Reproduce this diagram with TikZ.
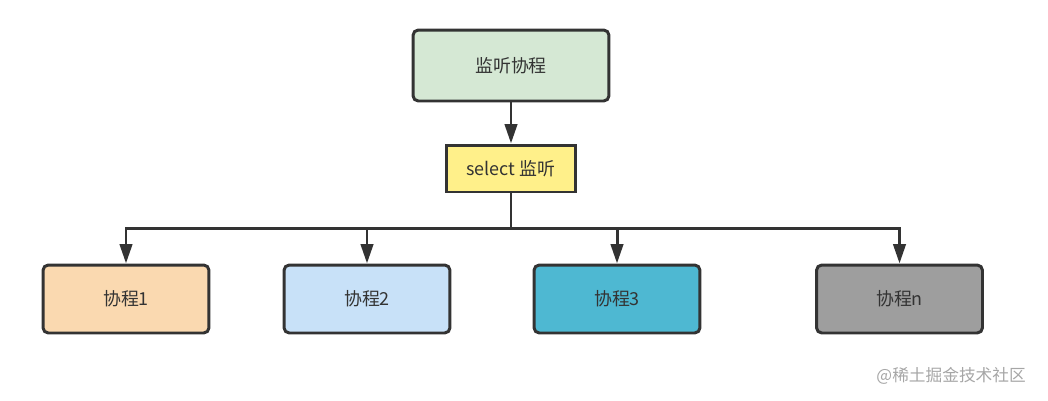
\documentclass[tikz,border=0pt]{standalone}
\usepackage{fontspec}
\setmainfont{Noto Sans CJK SC}
\usetikzlibrary{arrows.meta}
\definecolor{edgegray}{HTML}{333333}
\definecolor{listenfill}{HTML}{D5E8D4}
\definecolor{selfill}{HTML}{FFF08A}
\definecolor{coafill}{HTML}{FAD9B0}
\definecolor{cobfill}{HTML}{C8E1F8}
\definecolor{cocfill}{HTML}{4EB8D2}
\definecolor{condfill}{HTML}{9E9E9E}
\tikzset{
    box/.style={draw=edgegray, line width=1.7pt, rounded corners=3pt, font=\fontsize{10.2}{12}\selectfont, text=edgegray},
    cobox/.style={box, minimum width=3.32cm, minimum height=1.36cm},
    link/.style={draw=edgegray, line width=1.7pt},
    arr/.style={link, -{Triangle[length=11pt, width=7pt]}}
}
\begin{document}
\begin{tikzpicture}[x=0.02cm, y=-0.02cm]
                    \useasboundingbox (0,0) rectangle (1048,400);
                    \node[box, fill=listenfill, minimum width=3.92cm, minimum height=1.42cm] (listen) at (511,65.5) {监听协程};
                    \node[box, fill=selfill, rounded corners=0pt, minimum width=2.58cm, minimum height=0.94cm] (sel) at (511,168.5) {select 监听};
                    \coordinate (bus) at (511,228);
                    \node[cobox, fill=coafill] (co1) at (126,299) {协程1};
                    \node[cobox, fill=cobfill] (co2) at (367,299) {协程2};
                    \node[cobox, fill=cocfill] (co3) at (617,299) {协程3};
                    \node[cobox, fill=condfill] (con) at (899.5,299) {协程n};
                    \draw[arr] (listen) -- (sel);
                    \draw[link] (sel) -- (bus);
                    \foreach \co in {co1,co2,co3,con}
                        \draw[arr] (bus) -| (\co);
                    \node[anchor=east, text=black!35, font=\fontsize{9.5}{11}\selectfont] (mark) at (1032,376) {@稀土掘金技术社区};
                \end{tikzpicture}
\end{document}
